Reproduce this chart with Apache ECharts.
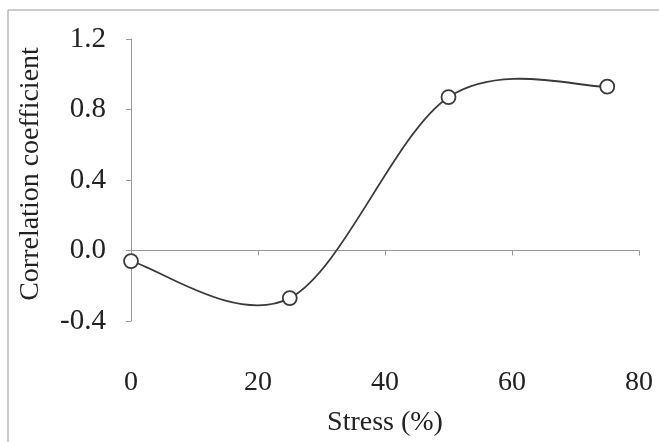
<!DOCTYPE html>
<html>
<head>
<meta charset="utf-8">
<script src="https://cdn.jsdelivr.net/npm/echarts@6/dist/echarts.min.js"></script>
<style>
  html, body { margin: 0; padding: 0; background: #fff; }
  #main { width: 659px; height: 442px; }
</style>
</head>
<body>
<div id="main"></div>
<script>
// stress levels (%) and measured correlation coefficient
var stress = [0, 25, 50, 75];
var corr = [-0.06, -0.27, 0.87, 0.93];
var xTicks = [0, 20, 40, 60, 80];
var yTicks = [-0.4, 0.0, 0.4, 0.8, 1.2];

var serif = '"Liberation Serif", "DejaVu Serif", serif';
var lineColor = '#3a3a3a';
var points = stress.map(function (s, i) { return [s, corr[i]]; });

// spreadsheet style smoothed line: cardinal spline through the points,
// one bezier piece per pair of neighbours, in pixel space via api.coord
function renderSmooth(params, api) {
	var i = params.dataIndex;
	if (i >= points.length - 1) return null;
	var p = points.map(function (d) { return api.coord(d); });
	var p0 = p[Math.max(i - 1, 0)], p1 = p[i], p2 = p[i + 1], p3 = p[Math.min(i + 2, p.length - 1)];
	return {
		type: 'bezierCurve',
		shape: {
			x1: p1[0], y1: p1[1],
			cpx1: p1[0] + (p2[0] - p0[0]) / 6, cpy1: p1[1] + (p2[1] - p0[1]) / 6,
			cpx2: p2[0] - (p3[0] - p1[0]) / 6, cpy2: p2[1] - (p3[1] - p1[1]) / 6,
			x2: p2[0], y2: p2[1]
		},
		style: { stroke: lineColor, lineWidth: 1.8, fill: null }
	};
}

var chart = echarts.init(document.getElementById('main'));
chart.setOption({
	backgroundColor: '#fff',
	animation: false,
	grid: { left: 131, right: 20, top: 39, bottom: 118 },
	// frame of the original figure (left and top edges only)
	graphic: [
		{ type: 'line', shape: { x1: 8, y1: 10, x2: 8, y2: 442 }, style: { stroke: '#bbb', lineWidth: 1.5 } },
		{ type: 'line', shape: { x1: 8, y1: 10, x2: 659, y2: 10 }, style: { stroke: '#bbb', lineWidth: 1.5 } }
	],
	xAxis: {
		type: 'value',
		min: xTicks[0],
		max: xTicks[xTicks.length - 1],
		interval: 20,
		name: 'Stress (%)',
		nameLocation: 'middle',
		nameGap: 88,
		nameTextStyle: { fontFamily: serif, fontSize: 28, color: '#222' },
		axisLine: { show: true, lineStyle: { color: '#999', width: 1 } },
		axisTick: { show: true, length: 5, lineStyle: { color: '#999' } },
		axisLabel: { margin: 48, fontFamily: serif, fontSize: 28, color: '#222' },
		splitLine: { show: false }
	},
	yAxis: {
		type: 'value',
		min: yTicks[0],
		max: yTicks[yTicks.length - 1],
		interval: 0.4,
		name: 'Correlation coefficient',
		nameLocation: 'middle',
		nameRotate: 90,
		nameGap: 86,
		nameTextStyle: { fontFamily: serif, fontSize: 28, color: '#222', padding: [0, 0, 0, 12] },
		axisLine: { show: true, onZero: false, lineStyle: { color: '#999', width: 1 } },
		axisTick: { show: true, length: 5, lineStyle: { color: '#999' } },
		axisLabel: {
			margin: 25,
			fontFamily: serif,
			fontSize: 29,
			color: '#222',
			formatter: function (v) { return v.toFixed(1); }
		},
		splitLine: { show: false }
	},
	series: [{
		type: 'custom',
		coordinateSystem: 'cartesian2d',
		data: points,
		encode: { x: 0, y: 1 },
		renderItem: renderSmooth,
		z: 2
	}, {
		type: 'scatter',
		data: points,
		symbol: 'circle',
		symbolSize: 14,
		itemStyle: { color: '#fff', borderColor: lineColor, borderWidth: 1.8, opacity: 1 },
		z: 3
	}]
});
</script>
</body>
</html>
